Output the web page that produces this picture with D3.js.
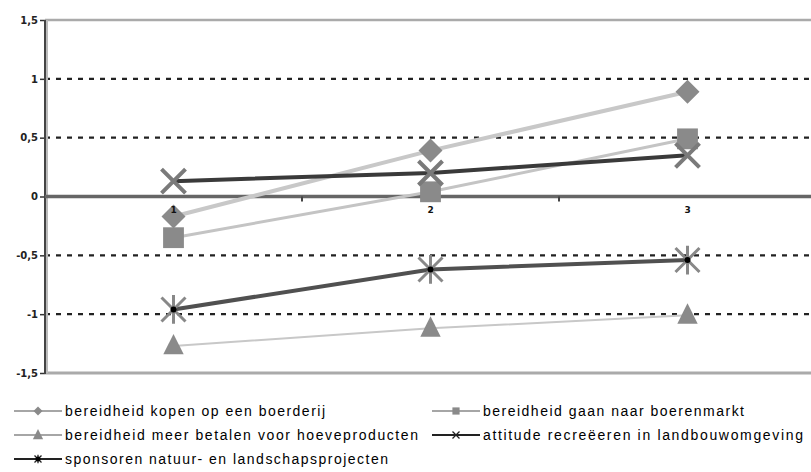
<!DOCTYPE html>
<html><head><meta charset="utf-8">
<script src="https://cdn.jsdelivr.net/npm/d3@7/dist/d3.min.js"></script>
<style>body{margin:0;background:#fff}svg{display:block}</style>
</head><body><svg id="c" width="811" height="472"></svg>
<script>
const categories = ["1", "2", "3"];
const yTicks = [1.5, 1, 0.5, 0, -0.5, -1, -1.5];
const seriesNames = [
  "bereidheid kopen op een boerderij",
  "bereidheid gaan naar boerenmarkt",
  "bereidheid meer betalen voor hoeveproducten",
  "attitude recreëeren in landbouwomgeving",
  "sponsoren natuur- en landschapsprojecten"
];
const kopen = [-0.17, 0.39, 0.89];
const boerenmarkt = [-0.35, 0.04, 0.49];
const meerBetalen = [-1.27, -1.12, -1.01];
const recreeren = [0.13, 0.20, 0.35];
const sponsoren = [-0.96, -0.62, -0.54];

(function () {
const svg = d3.select("#c");
const pLeft = 45, pRight = 816, pTop = 20, pBottom = 373;
const x = d3.scaleBand().domain(categories).range([pLeft, pRight]).padding(0);
const cx = c => x(c) + x.bandwidth() / 2;
const y = d3.scaleLinear().domain([-1.5, 1.5]).range([pBottom, pTop]);
const fmt = v => String(v).replace(".", ",");

// gridlines
[1, 0.5, -0.5, -1].forEach(v => {
  svg.append("line").attr("x1", pLeft).attr("x2", 811).attr("y1", y(v)).attr("y2", y(v))
    .attr("stroke", "#222").attr("stroke-width", 2.2).attr("stroke-dasharray", "5,6");
});
svg.append("line").attr("x1", pLeft).attr("x2", 811).attr("y1", y(1.5)).attr("y2", y(1.5))
  .attr("stroke", "#aaa").attr("stroke-width", 2.5);
svg.append("line").attr("x1", pLeft).attr("x2", 811).attr("y1", y(-1.5)).attr("y2", y(-1.5))
  .attr("stroke", "#aaa").attr("stroke-width", 3);

// y axis
const yAxis = d3.axisLeft(y).tickValues(yTicks).tickSize(5).tickFormat(fmt);
const ga = svg.append("g").attr("transform", `translate(${pLeft},0)`).call(yAxis);
ga.select(".domain").remove();
ga.selectAll(".tick line").attr("stroke", "#333").attr("stroke-width", 1.5);
ga.selectAll(".tick text").attr("font-family", "DejaVu Sans").attr("font-size", 10)
  .attr("font-weight", "bold").attr("fill", "#222").attr("x", -7);
svg.append("line").attr("x1", pLeft + 2).attr("x2", pLeft + 2).attr("y1", pTop).attr("y2", pBottom)
  .attr("stroke", "#bbb").attr("stroke-width", 2);
svg.append("line").attr("x1", pLeft).attr("x2", pLeft).attr("y1", pTop).attr("y2", pBottom + 1)
  .attr("stroke", "#444").attr("stroke-width", 2);

// zero axis
svg.append("line").attr("x1", pLeft).attr("x2", 811).attr("y1", y(0)).attr("y2", y(0))
  .attr("stroke", "#666").attr("stroke-width", 3.5);
categories.slice(1).forEach(c => {
  svg.append("line").attr("x1", x(c)).attr("x2", x(c)).attr("y1", y(0)).attr("y2", y(0) + 5)
    .attr("stroke", "#444").attr("stroke-width", 2);
});

const series = [
  {name: seriesNames[0], vals: kopen, line: "#c8c8c8", lw: 4, mk: "diamond", lgLine: "#888"},
  {name: seriesNames[1], vals: boerenmarkt, line: "#c4c4c4", lw: 3, mk: "square", lgLine: "#888"},
  {name: seriesNames[2], vals: meerBetalen, line: "#c8c8c8", lw: 2, mk: "triangle", lgLine: "#888"},
  {name: seriesNames[3], vals: recreeren, line: "#3a3a3a", lw: 4, mk: "x", lgLine: "#222"},
  {name: seriesNames[4], vals: sponsoren, line: "#505050", lw: 4, mk: "star", lgLine: "#222"}
];

function marker(g, type, s, legend) {
  const col = "#8a8a8a";
  if (type === "diamond") {
    g.append("path").attr("d", `M0,${-s}L${s},0L0,${s}L${-s},0Z`).attr("fill", col);
  } else if (type === "square") {
    g.append("rect").attr("x", -s * 0.8).attr("y", -s * 0.8).attr("width", s * 1.6).attr("height", s * 1.6).attr("fill", col);
  } else if (type === "triangle") {
    g.append("path").attr("d", `M0,${-s}L${s * 0.85},${s * 0.7}L${-s * 0.85},${s * 0.7}Z`).attr("fill", col);
  } else if (type === "x") {
    const w = legend ? 1.3 : 4;
    g.append("path").attr("d", `M${-s},${-s}L${s},${s}M${-s},${s}L${s},${-s}`)
      .attr("stroke", legend ? "#222" : "#7a7a7a").attr("stroke-width", w);
  } else if (type === "star") {
    const w = legend ? 1.3 : 3;
    g.append("path").attr("d", `M${-s},${-s}L${s},${s}M${-s},${s}L${s},${-s}M0,${-s * 1.2}L0,${s * 1.2}`)
      .attr("stroke", legend ? "#222" : "#888").attr("stroke-width", w);
    g.append("circle").attr("r", legend ? 2.5 : 3).attr("fill", "#000");
  }
}

const lineGen = d3.line().x((d, i) => cx(categories[i])).y(d => y(d));
series.forEach(s => {
  svg.append("path").attr("d", lineGen(s.vals)).attr("fill", "none")
    .attr("stroke", s.line).attr("stroke-width", s.lw);
});
series.forEach(s => {
  s.vals.forEach((v, i) => {
    const g = svg.append("g").attr("transform", `translate(${cx(categories[i])},${y(v)})`);
    marker(g, s.mk, s.mk === "square" ? 13 : 12, false);
  });
});

// category labels on top of markers
const xAxis = d3.axisBottom(x).tickSize(0).tickPadding(10);
const gx = svg.append("g").attr("transform", `translate(0,${y(0)})`).call(xAxis);
gx.select(".domain").remove();
gx.selectAll(".tick text").attr("font-family", "DejaVu Sans").attr("font-size", 9)
  .attr("font-weight", "bold").attr("fill", "#111");

// legend
const lgPos = [
  {x: 14, y: 411, len: 260}, {x: 432, y: 411, len: 261},
  {x: 14, y: 435, len: 353}, {x: 432, y: 435, len: 320},
  {x: 14, y: 459, len: 323}
];
series.forEach((s, i) => {
  const p = lgPos[i];
  const g = svg.append("g").attr("transform", `translate(${p.x},${p.y})`);
  g.append("line").attr("x1", 0).attr("x2", 48).attr("y1", 0).attr("y2", 0)
    .attr("stroke", s.lgLine).attr("stroke-width", i >= 3 ? 1.8 : 1.5);
  const m = g.append("g").attr("transform", "translate(24,0)");
  marker(m, s.mk, s.mk === "triangle" ? 6 : (s.mk === "x" || s.mk === "star") ? 3.5 : 4.5, true);
  g.append("text").attr("x", 51).attr("y", 5).attr("font-family", "Liberation Sans, Arial, sans-serif")
    .attr("font-size", 14).attr("fill", "#000").attr("textLength", p.len).attr("lengthAdjust", "spacing")
    .text(s.name);
});
})();
</script>
</body></html>
